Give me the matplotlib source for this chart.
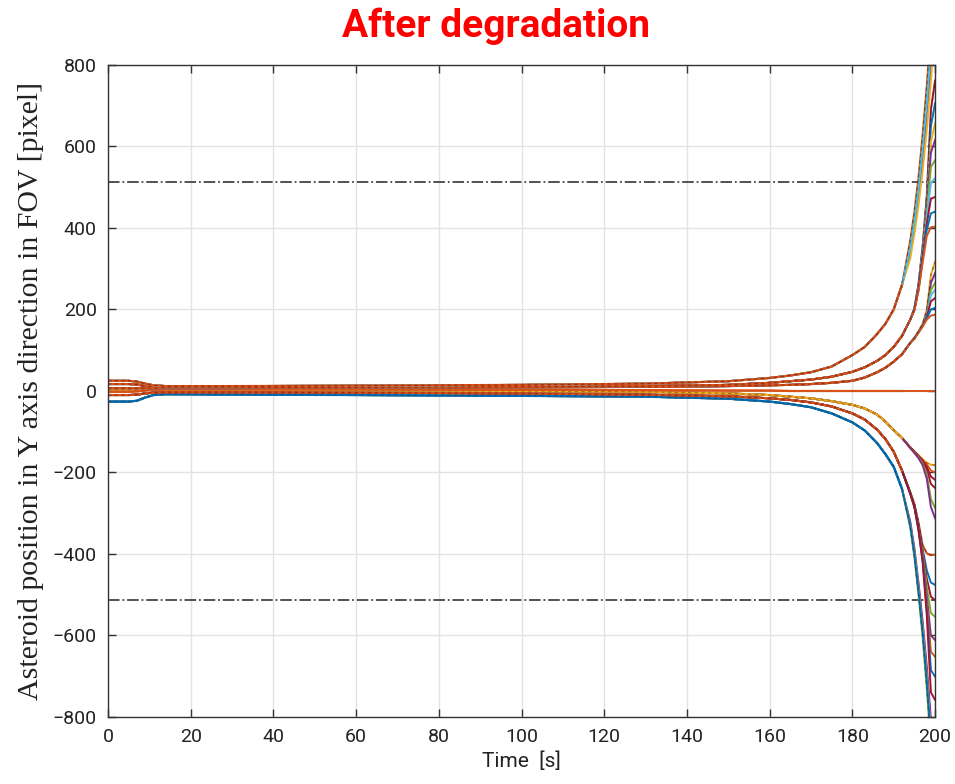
import numpy as np
import matplotlib
matplotlib.use("Agg")
import matplotlib.pyplot as plt

# MATLAB default line colours
c_blue = "#0072BD"
c_orange = "#D95319"
c_yellow = "#EDB120"
c_purple = "#7E2F8E"
c_green = "#77AC30"
c_cyan = "#4DBEEE"
c_red = "#A2142F"

# shared time knots (s) before the bundles split
t_base = [0, 5, 7, 9, 11, 14, 30, 60, 100, 130, 150, 160, 165, 170, 175, 180, 183, 186, 188, 190, 192]
# time knots of the final part, where each line goes its own way
t_tail = [194, 195, 196, 197, 198, 199, 200]

# upper bundle 1 (leaves the FOV)
u1_base = [25, 25, 23, 18, 14, 12, 12, 13, 15, 18, 24, 32, 38, 46, 60, 88, 108, 140, 165, 200, 260]
u1_tails = [
    [370, 440, 525, 630, 750, 890, 1050],
    [355, 425, 505, 605, 720, 855, 1010],
    [345, 410, 490, 585, 695, 825, 975],
    [335, 395, 470, 560, 665, 790, 935],
    [325, 385, 455, 540, 640, 760, 905],
    [350, 415, 495, 595, 705, 840, 990],
]
u1_colors = [c_orange, c_green, c_blue, c_purple, c_yellow, c_cyan]

# upper bundle 2
u2_base = [17, 17, 16, 12, 10, 9, 9, 9, 10, 12, 15, 20, 24, 28, 35, 47, 58, 74, 88, 108, 135]
u2_tails = [
    [175, 202, 262, 355, 480, 690, 762],
    [175, 202, 260, 350, 470, 650, 706],
    [175, 201, 258, 346, 460, 612, 656],
    [175, 201, 256, 342, 450, 585, 615],
    [175, 200, 254, 338, 438, 550, 566],
    [175, 200, 252, 334, 425, 510, 522],
    [175, 199, 250, 328, 410, 472, 476],
    [175, 199, 248, 322, 395, 436, 440],
    [175, 198, 245, 315, 380, 402, 403],
]
u2_colors = [c_red, c_blue, c_yellow, c_purple, c_green, c_cyan, c_red, c_blue, c_orange]

# upper bundle 3
u3_base = [7, 7, 7, 7, 7, 7, 7, 8, 9, 10, 12, 14, 15, 17, 20, 25, 33, 46, 57, 72, 90]
u3_tails = [
    [118, 130, 146, 165, 200, 285, 317],
    [118, 130, 146, 163, 192, 265, 289],
    [118, 130, 145, 162, 188, 248, 265],
    [118, 129, 145, 161, 185, 235, 248],
    [118, 129, 144, 160, 182, 220, 228],
    [118, 129, 144, 159, 178, 200, 204],
    [118, 128, 143, 158, 175, 185, 187],
]
u3_colors = [c_yellow, c_purple, c_green, c_cyan, c_red, c_blue, c_orange]

# flat line close to zero
f_base = [-2, -2, -1, 1, 3, 4, 4, 4, 3, 2, 1, 1, 0, 0, 0, 0, 0, 0, 0, 0, 0]
f_tails = [[0, 0, 0, 0, 0, 0, 0]]
f_colors = [c_orange]

# lower bundle 1
d1_base = [3, 3, 3, 3, 3, 3, 3, 2, 0, -2, -6, -10, -14, -18, -25, -34, -43, -58, -75, -96, -115]
d1_tails = [
    [-138, -148, -158, -168, -176, -181, -182],
    [-138, -148, -158, -169, -180, -195, -200],
    [-139, -149, -160, -172, -186, -210, -218],
    [-139, -150, -161, -174, -192, -228, -238],
    [-140, -151, -163, -178, -205, -265, -287],
    [-140, -152, -165, -182, -215, -285, -312],
]
d1_colors = [c_yellow, c_orange, c_red, c_red, c_green, c_purple]

# lower bundle 2
d2_base = [-10, -10, -9, -6, -4, -3, -3, -4, -6, -9, -13, -18, -22, -28, -38, -55, -70, -95, -118, -149, -195]
d2_tails = [
    [-248, -277, -322, -378, -398, -403, -402],
    [-249, -279, -327, -388, -440, -470, -476],
    [-250, -280, -330, -393, -460, -505, -513],
    [-250, -281, -332, -398, -480, -545, -554],
    [-251, -282, -335, -405, -505, -600, -611],
    [-251, -283, -337, -410, -520, -640, -652],
    [-252, -284, -340, -415, -535, -685, -701],
    [-252, -285, -342, -420, -550, -740, -758],
]
d2_colors = [c_orange, c_blue, c_red, c_green, c_purple, c_orange, c_blue, c_red]

# lower bundle 3 (leaves the FOV)
d3_base = [-26, -26, -24, -16, -10, -8, -9, -10, -12, -14, -19, -26, -32, -40, -55, -77, -97, -128, -155, -186, -240]
d3_tails = [
    [-335, -408, -500, -605, -730, -875, -1030],
    [-325, -392, -478, -575, -690, -825, -970],
    [-320, -385, -470, -565, -675, -805, -950],
    [-328, -396, -484, -582, -700, -838, -985],
    [-330, -400, -490, -590, -710, -850, -1000],
]
d3_colors = [c_green, c_cyan, c_purple, c_yellow, c_blue]

# FOV edge (pixel)
fov_limit = 512


def draw_bundle(ax, base, tails, colors, main_color, dash_color):
    t = t_base + t_tail
    for tail, col in zip(tails, colors):
        ax.plot(t, base + tail, color=col, lw=1.4, solid_joinstyle="round")
    # common part of the bundle in its main colour, with the dashed overlay
    ax.plot(t_base, base, color=main_color, lw=1.6, solid_joinstyle="round")
    ax.plot(t, base + tails[0], color=dash_color, lw=0.8, ls=(0, (3, 3)), alpha=0.6)


fig = plt.figure(figsize=(9.55, 7.84), dpi=100)
ax = fig.add_axes([0.1131, 0.0855, 0.866, 0.8316])

ax.grid(True, color="#e3e3e3", lw=1.0)
ax.set_axisbelow(True)

ax.plot([0, 200], [fov_limit, fov_limit], color="#444444", lw=1.3, ls="-.")
ax.plot([0, 200], [-fov_limit, -fov_limit], color="#444444", lw=1.3, ls="-.")

draw_bundle(ax, d3_base, d3_tails, d3_colors, c_blue, "#1a3a5a")
draw_bundle(ax, d2_base, d2_tails, d2_colors, c_orange, "#6a1010")
draw_bundle(ax, d1_base, d1_tails, d1_colors, c_yellow, "#8a3a00")
draw_bundle(ax, f_base, f_tails, f_colors, c_orange, c_orange)
draw_bundle(ax, u3_base, u3_tails, u3_colors, c_orange, "#6a1010")
draw_bundle(ax, u2_base, u2_tails, u2_colors, c_orange, "#6a1010")
draw_bundle(ax, u1_base, u1_tails, u1_colors, c_orange, "#6a1010")

ax.set_xlim(0, 200)
ax.set_ylim(-800, 800)
ax.set_xticks(np.arange(0, 201, 20))
ax.set_yticks(np.arange(-800, 801, 200))

for s in ax.spines.values():
    s.set_color("#333333")
    s.set_linewidth(1.0)

ax.tick_params(direction="in", top=True, right=True, length=6, width=1.0,
               color="#333333", labelsize=14, pad=8)
for lab in ax.get_xticklabels() + ax.get_yticklabels():
    lab.set_family("Roboto")
    lab.set_color("#222222")

ax.set_xlabel("Time  [s]", fontsize=15, family="Roboto", color="#222222", labelpad=4)
ax.set_ylabel("Asteroid position in Y axis direction in FOV [pixel]", fontsize=21.5,
              family=["Liberation Serif", "DejaVu Serif"], color="#222222", labelpad=6)

fig.text(0.519, 0.967, "After degradation", color="red", fontsize=28, fontweight="bold",
         ha="center", va="center", family="Roboto")

fig.savefig("out.png", dpi=100)
